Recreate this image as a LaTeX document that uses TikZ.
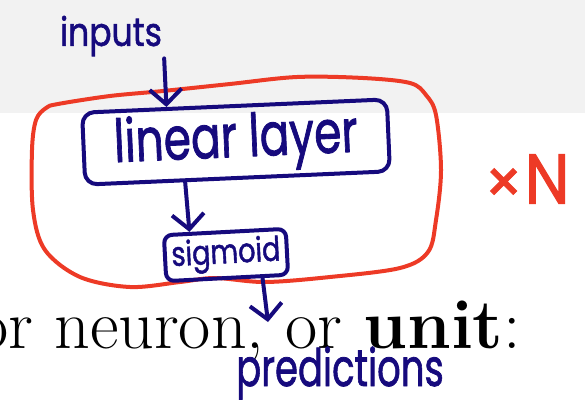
\documentclass[tikz,border=0pt]{standalone}
\usepackage{fontspec}
\usepackage{graphicx}
\usetikzlibrary{arrows.meta,calc}
\newfontfamily\handfont[FakeBold=1.5]{Poppins}
\definecolor{inkblue}{RGB}{22,10,125}
\definecolor{inkred}{RGB}{237,58,38}
\definecolor{bggray}{RGB}{242,242,242}
\tikzset{
  ink/.style={draw=inkblue, line width=4pt, line cap=round, line join=round},
  handbox/.style={ink, rounded corners=12pt, inner sep=0pt},
  handtext/.style={text=inkblue, inner sep=0pt},
  arr/.style={ink, -{Straight Barb[length=15pt,width=32pt,line width=4pt]}},
  loop/.style={draw=inkred, line width=4pt, line cap=round, line join=round}
}
\begin{document}
\begin{tikzpicture}[x=1pt,y=-1pt]
\useasboundingbox (0,0) rectangle (585,407);
\fill[bggray] (0,0) rectangle (585,113);
\node[anchor=base west, inner sep=0pt] (bg) at (-24,348)
  {\fontsize{70}{70}\selectfont or neuron, or \textbf{unit}:};
% red loop
\draw[loop] plot[smooth cycle, tension=0.55] coordinates {
 (58,104) (110,96) (163,91) (230,84) (297,77) (363,78) (410,83) (426,95)
 (436,115) (441,170) (436,220) (428,252) (400,268) (330,277) (265,282)
 (215,278) (180,282) (130,287) (80,277) (45,250) (33,210) (32,150)
 (36,120) (46,108)};
\node[text=inkred, inner sep=0pt, font=\handfont] (times) at (527,179)
  {{\fontsize{60}{60}\selectfont\texttimes}\,\scalebox{1}[1.1]{\fontsize{64}{64}\selectfont N}};
% nodes
\node[handtext, font=\handfont] (inputs) at (111,36)
  {\scalebox{1}[1.2]{\fontsize{33}{33}\selectfont inputs}};
\node[handbox, minimum width=305pt, minimum height=72pt, rotate=2.5,
      font=\handfont, text=inkblue] (lin) at (236,142)
  {\scalebox{1}[1.35]{\fontsize{44}{44}\selectfont linear layer}};
\node[handbox, rounded corners=8pt, minimum width=122pt, minimum height=46pt, rotate=3,
      font=\handfont, text=inkblue] (sig) at (226,255)
  {\scalebox{1}[1.25]{\fontsize{27}{27}\selectfont sigmoid}};
\node[handtext, font=\handfont, anchor=base] (pred) at (340,386)
  {\scalebox{1}[1.4]{\fontsize{37}{37}\selectfont predictions}};
\coordinate (predin) at (268,322);
% connectors
\draw[arr] ([xshift=2pt,yshift=-2pt]inputs.south east) -- ($(lin.north west)!0.28!(lin.north east)$);
\draw[arr] ($(lin.south west)!0.33!(lin.south east)$) -- ($(sig.north west)!0.22!(sig.north east)$);
\draw[arr] ($(sig.south west)!0.78!(sig.south east)$) -- (predin);
\end{tikzpicture}
\end{document}
